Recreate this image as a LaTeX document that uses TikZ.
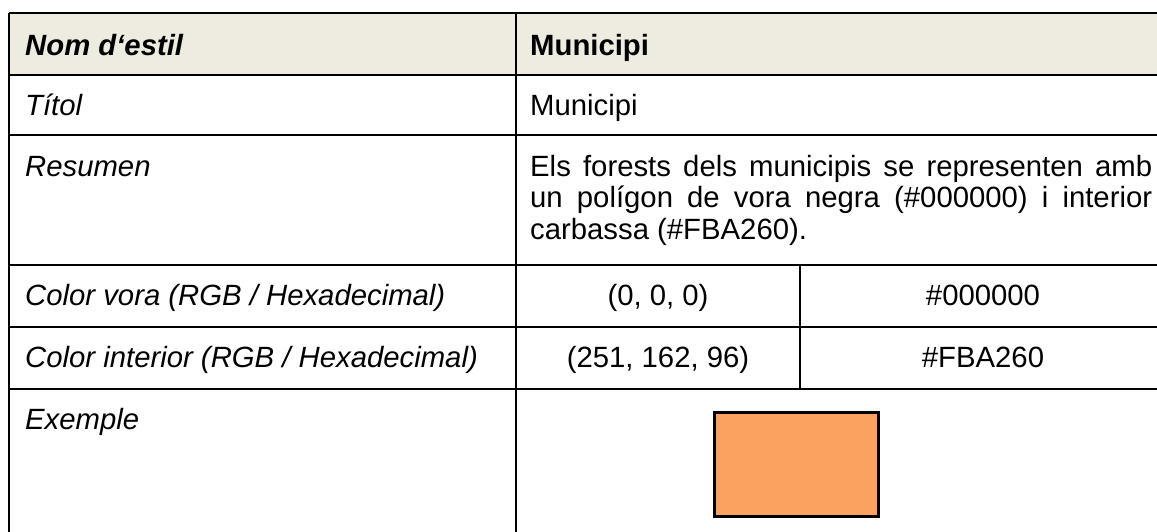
\documentclass[tikz,border=0pt]{standalone}
\usepackage{fontspec}
\setmainfont{Liberation Sans}
\definecolor{hdrfill}{HTML}{EEECE1}
\definecolor{carbassa}{HTML}{FBA260}
\begin{document}
\begin{tikzpicture}[x=1pt,y=-1pt,
  gridline/.style={line width=1.6pt, black},
  txt/.style={inner sep=0pt, anchor=base west, font=\fontsize{29.3}{33.7}\selectfont},
  ctxt/.style={txt, anchor=base}]
\useasboundingbox (0,0) rectangle (1157,532);
% header fill
\fill[hdrfill] (9,13) rectangle (1170,75);
% horizontal rules
\draw[gridline] (9,13) -- (1170,13);
\draw[gridline] (9,75) -- (1170,75);
\draw[gridline] (9,135) -- (1170,135);
\draw[gridline] (9,265) -- (1170,265);
\draw[gridline] (9,327) -- (1170,327);
\draw[gridline] (9,389) -- (1170,389);
% vertical rules
\draw[gridline] (9,13) -- (9,540);
\draw[gridline] (516,13) -- (516,540);
\draw[gridline] (800,265) -- (800,389);
% left column
\node[txt] (k1) at (25,56) {\bfseries\itshape Nom d‘estil};
\node[txt] (k2) at (25,116) {\itshape Títol};
\node[txt] (k3) at (25,176) {\itshape Resumen};
\node[txt] (k4) at (25,305.5) {\itshape Color vora (RGB / Hexadecimal)};
\node[txt] (k5) at (25,367.5) {\itshape Color interior (RGB / Hexadecimal)};
\node[txt] (k6) at (25,429.5) {\itshape Exemple};
% right column
\node[txt] (v1) at (530,56) {\bfseries Municipi};
\node[txt] (v2) at (530,116) {Municipi};
\node[txt] (v3a) at (530,176) {\makebox[622pt][s]{Els forests dels municipis se representen amb}};
\node[txt] (v3b) at (530,207.5) {\makebox[622pt][s]{un polígon de vora negra (\#000000) i interior}};
\node[txt] (v3c) at (530,239) {carbassa (\#FBA260).};
\node[ctxt] (v4a) at (658,305.5) {(0, 0, 0)};
\node[ctxt] (v4b) at (983,305.5) {\#000000};
\node[ctxt] (v5a) at (658,367.5) {(251, 162, 96)};
\node[ctxt] (v5b) at (983,367.5) {\#FBA260};
% example swatch
\node[draw=black, line width=3.4pt, fill=carbassa, minimum width=164pt, minimum height=104pt, inner sep=0pt] (swatch) at (796.5,464.5) {};
\end{tikzpicture}
\end{document}
